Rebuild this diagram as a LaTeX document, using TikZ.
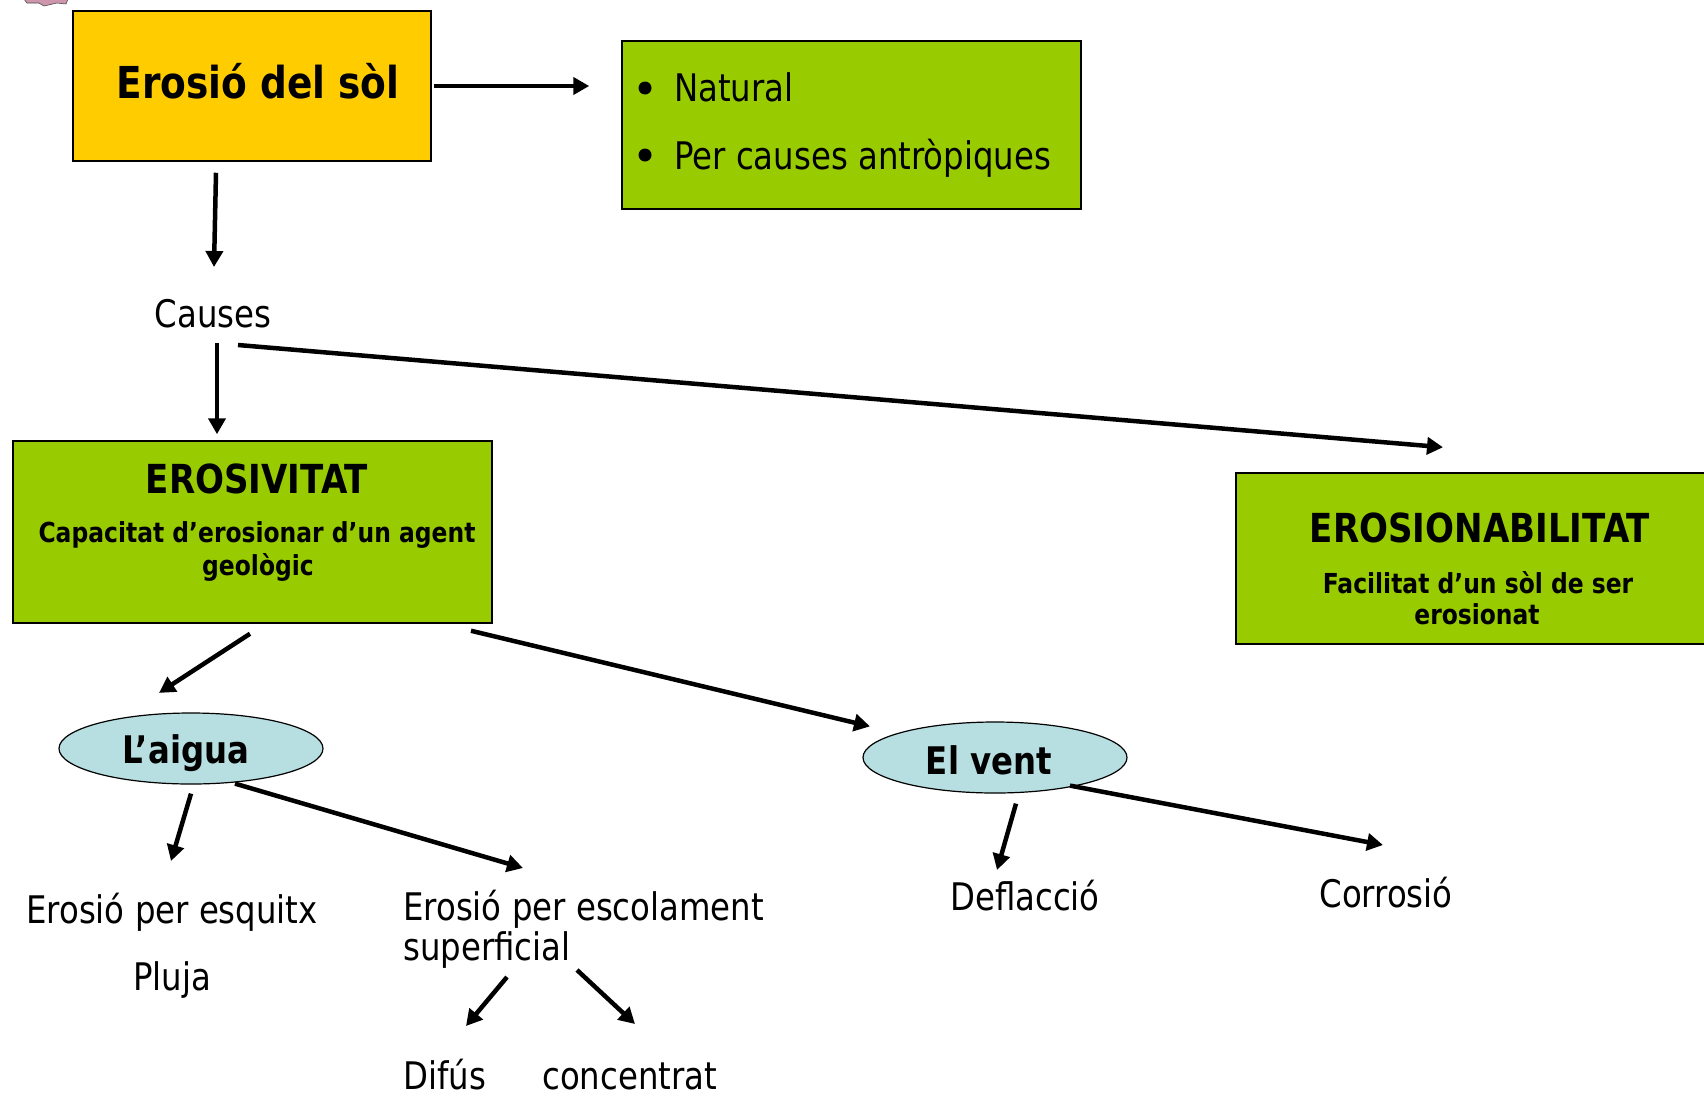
\documentclass[tikz,border=0pt]{standalone}
\usepackage{fontspec}
\setmainfont{DejaVu Sans}[FakeStretch=0.852]
\usetikzlibrary{arrows.meta,shapes.geometric,calc}
\definecolor{gold}{RGB}{255,204,0}
\definecolor{lgreen}{RGB}{153,204,0}
\definecolor{lblue}{RGB}{183,222,224}
\definecolor{pinkclip}{RGB}{205,150,170}
\tikzset{
  arr/.style={line width=4.5pt, -{Triangle[length=16pt,width=17pt]}},
  boxbase/.style={draw=black, line width=1.5pt, inner sep=0pt, rectangle},
  gbox/.style={boxbase, fill=lgreen},
  ybox/.style={boxbase, fill=gold},
  oval/.style={ellipse, draw=black, line width=1.2pt, fill=lblue, inner sep=0pt, minimum width=264pt, minimum height=71pt},
  txt/.style={inner sep=0pt, font=\fontsize{38}{40}\selectfont},
  btxt/.style={inner sep=0pt, font=\fontsize{40}{42}\selectfont\bfseries},
  stxt/.style={inner sep=0pt, font=\fontsize{27.5}{30}\selectfont\bfseries},
  bul/.style={circle, fill=black, inner sep=0pt, minimum size=13pt},
}
\begin{document}
\begin{tikzpicture}[x=1pt,y=-1pt]
\useasboundingbox (0,0) rectangle (1704,1098);
\fill[white] (0,0) rectangle (1704,1098);
\clip (0,0) rectangle (1704,1098);

% clipart fragment at the top-left corner
\filldraw[fill=pinkclip, draw=black!70, line width=0.6pt]
  (24,-1) -- (68,-1) -- (66,4) -- (57,3) -- (44,6) -- (39,3) -- (27,3) -- cycle;

% boxes
\node[ybox, minimum width=358pt, minimum height=150pt] (erosio) at (252,86) {};
\node[anchor=base, inner sep=0pt, font=\fontsize{44}{46}\selectfont\bfseries] (erosiot) at (258,98) {Erosió del sòl};

\node[gbox, minimum width=459pt, minimum height=168pt] (natural) at (851.5,125) {};
\node[bul] (bul1) at (645,88) {};
\node[bul] (bul2) at (645,155) {};
\node[txt, anchor=base west] (nat1) at (674,101) {Natural};
\node[txt, anchor=base west] (nat2) at (674,169) {Per causes antròpiques};

\node[txt, anchor=base] (causes) at (213,327) {Causes};

\node[gbox, minimum width=479pt, minimum height=182pt] (erosivitat) at (252.5,532) {};
\node[btxt, anchor=base] (erosivitatt) at (257,493) {EROSIVITAT};
\node[stxt, anchor=base] (capac1) at (257,542) {Capacitat d’erosionar d’un agent};
\node[stxt, anchor=base] (capac2) at (258,575) {geològic};

\node[gbox, minimum width=484pt, minimum height=171pt] (erosion) at (1478,558.5) {};
\node[btxt, anchor=base] (erosiont) at (1480,542) {EROSIONABILITAT};
\node[stxt, anchor=base] (facil1) at (1478,593) {Facilitat d’un sòl de ser};
\node[stxt, anchor=base] (facil2) at (1477,624) {erosionat};

% ellipses
\node[oval] (aigua) at (191,748.5) {};
\node[anchor=base, inner sep=0pt, font=\fontsize{38}{40}\selectfont\bfseries] (aiguat) at (186,763) {L’aigua};
\node[oval] (vent) at (995,757.5) {};
\node[anchor=base, inner sep=0pt, font=\fontsize{38}{40}\selectfont\bfseries] (ventt) at (989,774) {El vent};

% leaf texts
\node[txt, anchor=base] (esquitx) at (172,923) {Erosió per esquitx};
\node[txt, anchor=base] (pluja) at (172,990) {Pluja};
\node[txt, anchor=base west] (escol1) at (403,920) {Erosió per escolament};
\node[txt, anchor=base west] (escol2) at (403,960) {superficial};
\node[txt, anchor=base west] (difus) at (403,1089) {Difús};
\node[txt, anchor=base west] (concentrat) at (542,1089) {concentrat};
\node[txt, anchor=base] (deflaccio) at (1025,910) {Deflacció};
\node[txt, anchor=base] (corrosio) at (1386,907) {Corrosió};

% connectors
\draw[arr] ($(erosio.east)+(2,0)$) -- ($(natural.west)+(-32,-39)$);
\draw[arr] ($(erosio.south)+(-36,11)$) -- ($(causes.base)+(1,-60)$);
\draw[arr] ($(causes.base)+(4,16)$) -- ($(erosivitat.north)+(-35.5,-6)$);
\draw[arr] ($(causes.base)+(25,18)$) -- ($(erosion.north)+(-35,-25)$);
\draw[arr] ($(erosivitat.south)+(-2.5,10)$) -- ($(aigua.north)+(-32,-19.5)$);
\draw[arr] ($(erosivitat.south)+(218.5,7)$) -- ($(vent.north)+(-125,5)$);
\draw[arr] ($(aigua.south)+(0,9)$) -- ($(esquitx.base)+(-1,-62)$);
\draw[arr] ($(aigua.south)+(44,-1)$) -- ($(escol1.base west)+(120,-52)$);
\draw[arr] ($(escol2.base west)+(104,17)$) -- ($(difus.base west)+(63,-63)$);
\draw[arr] ($(escol2.base west)+(174,10)$) -- ($(concentrat.base west)+(93,-65)$);
\draw[arr] ($(vent.south)+(21,10)$) -- ($(deflaccio.base)+(-28,-40)$);
\draw[arr] ($(vent.south)+(75,-8)$) -- ($(corrosio.base)+(-3,-62)$);
\end{tikzpicture}
\end{document}
